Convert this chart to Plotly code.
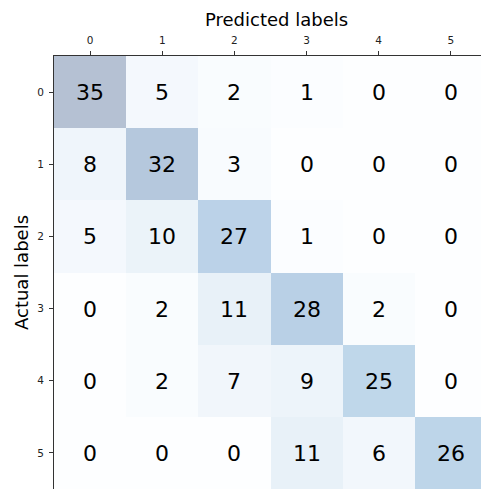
import plotly.graph_objects as go

# Class indices and confusion counts (rows = actual, columns = predicted)
classes = [0, 1, 2, 3, 4, 5]
counts = [
    [35, 5, 2, 1, 0, 0],
    [8, 32, 3, 0, 0, 0],
    [5, 10, 27, 1, 0, 0],
    [0, 2, 11, 28, 2, 0],
    [0, 2, 7, 9, 25, 0],
    [0, 0, 0, 11, 6, 26],
]
x_title = "Predicted labels"
y_title = "Actual labels"

# Blues palette, faded onto white (30% opacity look)
blues = [
    (0.0, (247, 251, 255)), (0.125, (222, 235, 247)), (0.25, (198, 219, 239)),
    (0.375, (158, 202, 225)), (0.5, (107, 174, 214)), (0.625, (66, 146, 198)),
    (0.75, (33, 113, 181)), (0.875, (8, 81, 156)), (1.0, (8, 48, 107)),
]
alpha = 0.3
colorscale = []
for pos, rgb in blues:
    r, g, b = (round(alpha * c + (1 - alpha) * 255) for c in rgb)
    colorscale.append([pos, f"rgb({r},{g},{b})"])

W, H = 481, 490
ML, MT, MB, MR = 54, 56, 1, 0
cell = 72.15
plot_w = W - ML - MR
plot_h = H - MT - MB

fig = go.Figure(
    go.Heatmap(
        z=counts,
        x=classes,
        y=classes,
        colorscale=colorscale,
        zmin=0,
        zmax=max(max(r) for r in counts),
        showscale=False,
        texttemplate="%{z}",
        textfont=dict(size=22, color="black", family="DejaVu Sans"),
        hoverinfo="skip",
    )
)

axis_common = dict(
    tickmode="array",
    tickvals=classes,
    ticktext=[str(c) for c in classes],
    ticks="outside",
    ticklen=4,
    tickwidth=1,
    tickcolor="#333",
    ticklabelstandoff=3,
    tickfont=dict(size=10.5, color="#222", family="DejaVu Sans"),
    showgrid=False,
    zeroline=False,
    showline=True,
    linecolor="#333",
    linewidth=1,
)

fig.update_xaxes(side="top", range=[-0.5, -0.5 + plot_w / cell], **axis_common)
fig.update_yaxes(range=[-0.5 + plot_h / cell, -0.5], **axis_common)

fig.add_annotation(
    text=x_title, xref="paper", yref="paper",
    x=(276.5 - ML) / plot_w, y=1, xanchor="center", yanchor="middle",
    yshift=MT - 19.5, showarrow=False,
    font=dict(size=18, color="black", family="DejaVu Sans"),
)
fig.add_annotation(
    text=y_title, xref="paper", yref="paper",
    x=(21 - ML) / plot_w, y=(H - MB - 273) / plot_h, xanchor="center", yanchor="middle",
    textangle=-90, showarrow=False,
    font=dict(size=18, color="black", family="DejaVu Sans"),
)

fig.update_layout(
    width=W, height=H,
    margin=dict(l=ML, r=MR, t=MT, b=MB, pad=0),
    paper_bgcolor="white",
    plot_bgcolor="white",
    font=dict(family="DejaVu Sans"),
)

fig.write_html("out.html")
